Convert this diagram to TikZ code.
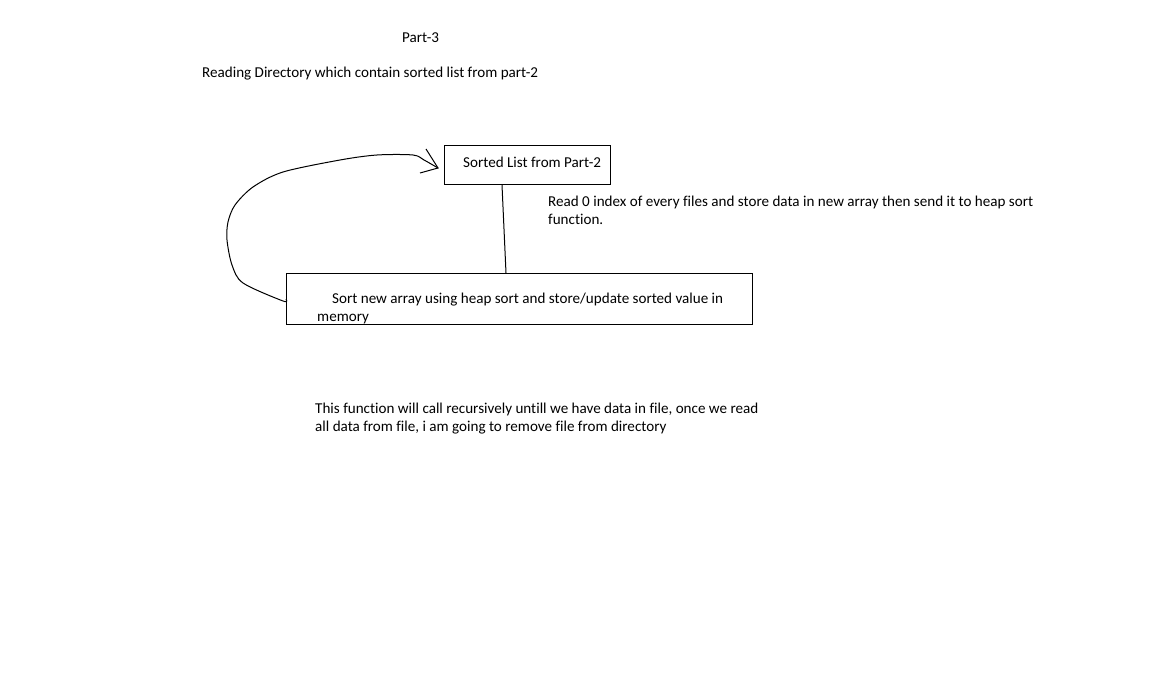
\documentclass[tikz,border=0pt]{standalone}
\usepackage{fontspec}
\setmainfont[Ligatures=NoCommon]{Carlito}
\usetikzlibrary{calc}
\begin{document}
\begin{tikzpicture}[x=1pt,y=-1pt,
  txt/.style={anchor=base west,inner sep=0pt,font=\fontsize{15.1}{18}\selectfont},
  boxn/.style={draw=black,line width=1pt,rectangle,inner sep=0pt,anchor=north west},
  pen/.style={line width=1pt,black}]
\useasboundingbox[fill=white] (0,0) rectangle (1152,687);
\node[txt] (title) at (402,43) {Part-3};
\node[txt] (sub) at (202,78) {Reading Directory which contain sorted list from part-2};
\node[boxn,minimum width=166pt,minimum height=39pt] (top) at (444,145) {};
\node[txt] (toptxt) at (463,168) {Sorted List from Part-2};
\node[boxn,minimum width=466pt,minimum height=51pt] (bot) at (286,273) {};
\node[txt] (bottxt1) at (332,304) {Sort new array using heap sort and store/update sorted value in};
\node[txt] (bottxt2) at (317,321) {memory};
\node[txt] (read1) at (548,207) {Read 0 index of every files and store data in new array then send it to heap sort};
\node[txt] (read2) at (548,225) {function.};
\node[txt] (note1) at (315,413) {This function will call recursively untill we have data in file, once we read};
\node[txt] (note2) at (315,431) {all data from file, i am going to remove file from directory};
\draw[pen] ($(top.south west)+(58,0)$) -- ($(bot.north west)+(220,0)$);
\coordinate (tip) at ($(top.west)+(-6,3)$);
\draw[pen] plot[smooth,tension=0.5] coordinates {(bot.west) (283,301) (243,283) (232,265) (227,240) (228,222) (235,205) (253,187) (283,172) (340,160) (377,155) (413,155) (424,160) (tip)};
\draw[pen] (426,149) -- (tip) -- (420,173);
\end{tikzpicture}
\end{document}
